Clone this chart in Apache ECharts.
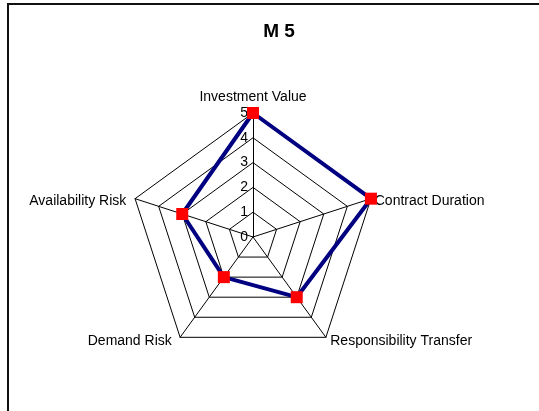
<!DOCTYPE html>
<html>
<head>
<meta charset="utf-8">
<script src="https://cdn.jsdelivr.net/npm/echarts@6/dist/echarts.min.js"></script>
<style>
html,body{margin:0;padding:0;background:#fff;overflow:hidden;}
#chart{position:absolute;left:0;top:0;width:539px;height:411px;}
#frame{position:absolute;left:7px;top:3px;width:560px;height:430px;border:2px solid #111;pointer-events:none;box-sizing:border-box;}
</style>
</head>
<body>
<div id="chart"></div>
<div id="frame"></div>
<script>
// Indicators listed in ECharts drawing order (starting at top, going counter-clockwise)
const categories = ['Investment Value', 'Availability Risk', 'Demand Risk', 'Responsibility Transfer', 'Contract Duration'];
const values = [5, 3, 2, 3, 5];
const maxValue = 5;
const tickLabels = ['0', '1', '2', '3', '4', '5'];
const title = 'M 5';

// per-label nudges (padding: top, right, bottom, left) to mimic the original label placement
const namePad = {
  'Investment Value': [0, 0, 5, 0],
  'Availability Risk': [7, 5, 0, 0],
  'Demand Risk': [2, 6, 0, 0],
  'Responsibility Transfer': [2, 0, 0, 2],
  'Contract Duration': [8, 0, 0, 0]
};

const chart = echarts.init(document.getElementById('chart'), null, {renderer: 'canvas'});
const font = 'Liberation Sans, Arial, sans-serif';
const rich = {};
categories.forEach((n, i) => {
  rich['n' + i] = {padding: namePad[n], fontFamily: font, fontSize: 14, color: '#000'};
});
chart.setOption({
  animation: false,
  backgroundColor: '#fff',
  title: {
    text: title, left: 274, top: 17, textAlign: 'center',
    textStyle: {fontFamily: font, fontSize: 19, fontWeight: 'bold', color: '#000'}
  },
  radar: {
    center: [253, 237],
    radius: 124,
    startAngle: 90,
    splitNumber: 5,
    shape: 'polygon',
    indicator: categories.map(n => ({name: n, min: 0, max: maxValue})),
    axisName: {
      color: '#000', fontFamily: font, fontSize: 14,
      formatter: (name) => '{n' + categories.indexOf(name) + '|' + name + '}',
      rich: rich
    },
    nameGap: 4,
    splitLine: {lineStyle: {color: '#000', width: 1}},
    splitArea: {show: false},
    axisLine: {lineStyle: {color: '#000', width: 1}},
    axisTick: {show: false},
    axisLabel: {show: false}
  },
  polar: {center: [253, 237], radius: 124},
  angleAxis: {show: false, startAngle: 90, min: 0, max: 360},
  radiusAxis: {
    min: 0, max: maxValue, interval: 1,
    axisLine: {show: false}, axisTick: {show: false}, splitLine: {show: false},
    axisLabel: {
      show: true, color: '#000', fontFamily: font, fontSize: 14, margin: 5,
      formatter: (v) => tickLabels[Math.round(v)]
    }
  },
  series: [{
    type: 'radar',
    data: [{value: values, name: title}],
    symbol: 'rect',
    symbolSize: 12,
    lineStyle: {color: '#000080', width: 4},
    itemStyle: {color: '#ff0000', borderWidth: 0}
  }]
});
</script>
</body>
</html>
